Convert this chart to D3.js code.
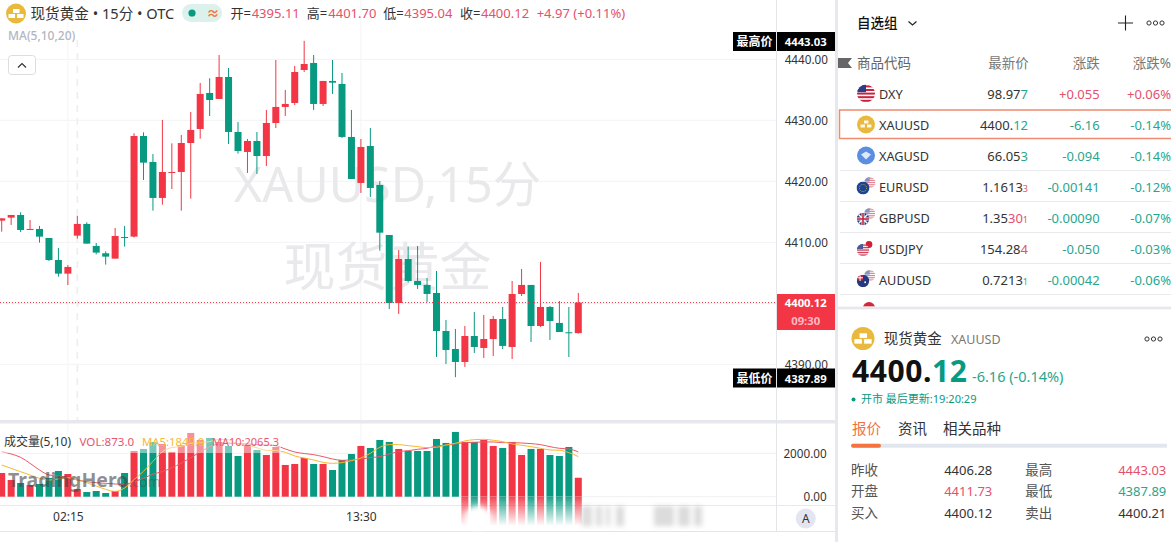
<!DOCTYPE html>
<html>
<head>
<meta charset="utf-8">
<script src="https://cdn.jsdelivr.net/npm/d3@7"></script>
<style>
  html, body { margin: 0; padding: 0; background: #fff; overflow: hidden; }
  svg { display: block; }
  text { font-family: "Noto Sans", "Noto Sans CJK SC", sans-serif; }
  .tick line, .domain { shape-rendering: crispEdges; }
</style>
</head>
<body>
<div id="chart"></div>
<script>
const opens = [4413.55,4414.04,4414.48,4412.02,4412.19,4410.71,4407.10,4404.86,4411.09,4413.01,
  4409.40,4408.20,4407.32,4410.87,4410.93,4427.43,4423.17,4417.27,4421.37,4421.53,
  4426.28,4428.58,4434.48,4433.50,4437.10,4428.09,4424.81,4426.61,4424.15,4429.56,
  4432.19,4432.84,4438.25,4439.40,4432.68,4436.45,4435.96,4427.27,4419.73,4425.79,
  4419.40,4411.20,4400.05,4407.27,4403.66,4403.01,4401.69,4395.46,4392.51,4390.38,
  4394.64,4392.68,4394.15,4397.43,4392.84,4401.53,4403.01,4396.28,4399.40,4396.78,
  4395.25,4395.11];
const closes = [4413.93,4414.48,4412.02,4412.19,4410.93,4407.10,4404.86,4405.96,4413.01,4409.78,
  4408.31,4407.65,4411.04,4410.77,4427.43,4423.06,4417.27,4421.53,4421.53,4426.28,
  4428.42,4434.32,4433.33,4437.10,4428.09,4424.97,4426.61,4424.15,4429.56,4432.19,
  4432.68,4437.92,4439.23,4432.68,4436.45,4436.17,4427.27,4420.38,4425.63,4418.91,
  4411.58,4400.05,4407.27,4403.66,4403.01,4401.53,4395.46,4392.35,4390.38,4394.64,
  4392.84,4394.15,4397.43,4393.01,4401.53,4403.01,4396.28,4399.40,4397.10,4395.30,
  4395.14,4400.12];
const highs = [4413.93,4414.48,4414.92,4413.66,4412.68,4410.71,4409.07,4406.28,4414.32,4413.28,
  4409.89,4408.52,4412.35,4412.68,4427.87,4428.03,4424.48,4430.05,4426.23,4427.60,
  4431.37,4436.12,4436.89,4440.71,4438.58,4429.73,4426.94,4428.09,4431.69,4439.89,
  4434.97,4438.91,4443.03,4440.71,4436.45,4439.89,4437.76,4431.69,4426.94,4428.74,
  4420.05,4411.20,4408.74,4409.29,4409.40,4404.15,4405.30,4397.27,4395.79,4396.28,
  4398.58,4398.09,4397.92,4399.40,4403.66,4405.63,4403.01,4406.78,4399.56,4400.38,
  4399.40,4401.70];
const lows = [4411.75,4412.84,4411.69,4412.02,4409.95,4406.94,4404.37,4402.99,4410.60,4409.78,
  4408.03,4406.34,4407.32,4409.29,4410.77,4420.22,4415.19,4416.17,4418.74,4415.19,
  4417.16,4426.99,4430.71,4433.50,4426.12,4424.54,4421.37,4421.20,4422.51,4428.74,
  4430.71,4432.51,4437.92,4431.69,4432.35,4434.32,4427.10,4420.38,4418.09,4417.43,
  4408.63,4399.07,4398.25,4403.39,4402.35,4400.22,4391.20,4390.05,4387.89,4389.56,
  4391.86,4391.04,4391.37,4392.51,4390.87,4401.20,4393.66,4396.12,4393.99,4395.30,
  4391.20,4395.04];
const volumes = [1092,769,631,538,585,862,1185,1046,354,215,
  262,169,262,1092,2108,2200,2523,2431,2062,2385,
  2938,2615,2708,2523,2338,1877,2385,2154,1923,2292,
  1462,1508,1785,1508,1508,1231,1692,1969,2338,2246,
  2615,2523,2200,2108,2108,2108,2661,2477,2985,2523,
  2523,2615,2338,2246,2523,1923,2200,2200,1923,1877,
  2292,873];
const ma5 = [1461,1307,1154,1000,846,769,815,877,769,646,
  492,338,246,400,784,1169,1630,2072,2265,2320,
  2464,2486,2542,2634,2624,2412,2366,2255,2135,2126,
  2045,1876,1784,1692,1584,1538,1569,1661,1784,2000,
  2276,2400,2400,2353,2307,2261,2277,2384,2461,2569,
  2630,2645,2600,2538,2430,2369,2307,2230,2153,2138,
  2030,1849];
const ma10 = [2076,1969,1815,1538,1230,1000,954,877,769,692,
  646,615,585,569,692,846,1040,1160,1330,1550,
  1800,2060,2300,2440,2470,2440,2430,2400,2385,2350,
  2200,2060,1990,1938,1846,1738,1676,1692,1738,1800,
  1846,1969,2076,2122,2184,2230,2338,2369,2430,2492,
  2507,2522,2522,2492,2492,2476,2446,2400,2307,2230,
  2200,2065];

const priceTicks = [4440, 4430, 4420, 4410, 4400, 4390];
const volTicks = [2000, 0];
const timeTicks = [7, 38];
const timeLabels = ["02:15", "13:30"];

const watchSymbols = ["DXY", "XAUUSD", "XAGUSD", "EURUSD", "GBPUSD", "USDJPY", "AUDUSD", ""];
const watchMain = ["98.97", "4400.", "66.05", "1.1613", "1.35", "154.28", "0.7213", "0.9445"];
const watchTint = ["7", "12", "3", "", "30", "4", "", ""];
const watchSmall = ["", "", "", "3", "1", "", "1", ""];
const watchChange = ["+0.055", "-6.16", "-0.094", "-0.00141", "-0.00090", "-0.050", "-0.00042", "+0.00345"];
const watchPct = ["+0.06%", "-0.14%", "-0.14%", "-0.12%", "-0.07%", "-0.03%", "-0.06%", "+0.37%"];
const watchColor = ["g", "g", "g", "r", "r", "r", "g", "r"];
const watchUp = [1, 0, 0, 0, 0, 0, 0, 1];

const width = 1171, height = 542;
const RED = "#f23645", GREEN = "#089981";
const AXIS_TEXT = "#333";

const x = d3.scaleLinear().domain([0, 61]).range([1.7, 578.3]);
const y = d3.scaleLinear().domain([4390, 4440]).range([364.3, 59.3]);
const yVol = d3.scaleLinear().domain([0, 2000]).range([496.7, 453.3]);
const bodyW = 7;

const candles = opens.map((o, i) => ({ i, o, c: closes[i], h: highs[i], l: lows[i], v: volumes[i] }));
const colorOf = d => (d.c >= d.o ? RED : GREEN);

const svg = d3.select("#chart").append("svg").attr("width", width).attr("height", height);
const defs = svg.append("defs");

defs.append("clipPath").attr("id", "chartClip").append("rect")
  .attr("x", 0).attr("y", 0).attr("width", 776).attr("height", 505);
defs.append("clipPath").attr("id", "listClip").append("rect")
  .attr("x", 838).attr("y", 0).attr("width", 333).attr("height", 306.6);
defs.append("filter").attr("id", "blur6").attr("x", "-30%").attr("y", "-60%").attr("width", "160%").attr("height", "220%")
  .append("feGaussianBlur").attr("stdDeviation", 2.5);

[["fadeR", RED], ["fadeG", GREEN]].forEach(([id, col]) => {
  const g = defs.append("linearGradient").attr("id", id)
    .attr("gradientUnits", "userSpaceOnUse").attr("x1", 0).attr("x2", 0).attr("y1", 497).attr("y2", 526);
  g.append("stop").attr("offset", 0).attr("stop-color", col).attr("stop-opacity", 0.9);
  g.append("stop").attr("offset", 1).attr("stop-color", col).attr("stop-opacity", 0);
});

// ---------- chart area ----------
const chart = svg.append("g").attr("clip-path", "url(#chartClip)");

// price grid
chart.append("g").selectAll("line").data(priceTicks).join("line")
  .attr("x1", 0).attr("x2", 776)
  .attr("y1", d => y(d)).attr("y2", d => y(d))
  .attr("stroke", "#f2f3f5");

// volume grid
chart.append("g").selectAll("line").data(volTicks).join("line")
  .attr("x1", 0).attr("x2", 776)
  .attr("y1", d => yVol(d)).attr("y2", d => yVol(d))
  .attr("stroke", "#eff0f3");

// time grid
chart.append("g").selectAll("line").data(timeTicks).join("line")
  .attr("x1", d => x(d)).attr("x2", d => x(d))
  .attr("y1", 0).attr("y2", 505)
  .attr("stroke", "#f3f4f6");

// session separator
chart.append("line")
  .attr("x1", x(8)).attr("x2", x(8))
  .attr("y1", 40).attr("y2", 420)
  .attr("stroke", "#eceef2").attr("stroke-width", 1.6).attr("stroke-dasharray", "7 6");

// big watermark
chart.append("text").attr("x", 387.5).attr("y", 202).attr("text-anchor", "middle")
  .attr("font-size", 48.5).attr("fill", "#e9e9eb").text("XAUUSD,15分");
chart.append("text").attr("x", 387.5).attr("y", 286).attr("text-anchor", "middle")
  .attr("font-size", 52).attr("fill", "#e9e9eb").text("现货黄金");

// candles
const candleG = chart.append("g");
candleG.selectAll("line").data(candles).join("line")
  .attr("x1", d => x(d.i)).attr("x2", d => x(d.i))
  .attr("y1", d => y(d.h)).attr("y2", d => y(d.l))
  .attr("stroke", colorOf).attr("stroke-width", 1);
candleG.selectAll("rect").data(candles).join("rect")
  .attr("x", d => x(d.i) - bodyW / 2)
  .attr("width", bodyW)
  .attr("y", d => y(Math.max(d.o, d.c)))
  .attr("height", d => Math.max(1, Math.abs(y(d.o) - y(d.c))))
  .attr("fill", colorOf);

// last price dotted line
chart.append("line")
  .attr("x1", 0).attr("x2", 776)
  .attr("y1", y(closes[61])).attr("y2", y(closes[61]))
  .attr("stroke", RED).attr("stroke-dasharray", "1 2");

// volume bars
chart.append("g").selectAll("rect").data(candles).join("rect")
  .attr("x", d => x(d.i) - bodyW / 2)
  .attr("width", bodyW)
  .attr("y", d => yVol(d.v))
  .attr("height", d => yVol(0) - yVol(d.v))
  .attr("fill", colorOf);

// volume moving averages
const maLine = d3.line().x((d, i) => x(i)).y(d => yVol(d)).curve(d3.curveMonotoneX);
chart.append("path").attr("d", maLine(ma10)).attr("fill", "none").attr("stroke", "#e8586a").attr("stroke-width", 1);
chart.append("path").attr("d", maLine(ma5)).attr("fill", "none").attr("stroke", "#f7b92f").attr("stroke-width", 1);

// backing of the volume legend
chart.append("rect").attr("x", 0).attr("y", 432).attr("width", 281).attr("height", 21)
  .attr("fill", "#fff").attr("opacity", 0.45);

// TradingHero mark
const tmark = chart.append("text").attr("x", 8).attr("y", 487).attr("font-size", 19.5).attr("font-weight", 700)
  .attr("fill", "#444").attr("fill-opacity", 0.6);
tmark.append("tspan").text("TradingHero");
tmark.append("tspan").attr("font-weight", 400).attr("font-size", 14).attr("fill-opacity", 0.4).text(".com");

// sub pane separator, axis lines
svg.append("rect").attr("x", 0).attr("y", 420).attr("width", 835).attr("height", 3.5).attr("fill", "#e6e8ee");
svg.append("line").attr("x1", 0).attr("x2", 835).attr("y1", 505.5).attr("y2", 505.5).attr("stroke", "#e8e9ed");
svg.append("line").attr("x1", 0).attr("x2", 835).attr("y1", 531.5).attr("y2", 531.5).attr("stroke", "#e4e5e9");
svg.append("line").attr("x1", 776.5).attr("x2", 776.5).attr("y1", 0).attr("y2", 531).attr("stroke", "#e4e5e9");
svg.append("rect").attr("x", 835).attr("y", 0).attr("width", 3).attr("height", height).attr("fill", "#e6e8ee");

// bar reflections and blurred stamp at the bottom
const fadeG = svg.append("g");
fadeG.selectAll("rect").data(candles.filter(d => d.i >= 49)).join("rect")
  .attr("x", d => x(d.i) - bodyW / 2)
  .attr("width", bodyW)
  .attr("y", 497).attr("height", 30)
  .attr("fill", d => (d.c >= d.o ? "url(#fadeR)" : "url(#fadeG)"));
const stamp = svg.append("g").attr("filter", "url(#blur6)");
stamp.append("ellipse").attr("cx", 478).attr("cy", 518).attr("rx", 13).attr("ry", 12).attr("fill", "#fff");
stamp.selectAll("rect.s").data([[582, 10], [596, 6], [606, 4], [616, 8], [654, 20], [678, 12], [694, 8]]).join("rect")
  .attr("x", d => d[0]).attr("width", d => d[1])
  .attr("y", 506).attr("height", 20)
  .attr("fill", "#c4c4c4").attr("opacity", 0.6);

// price axis
const priceAxis = svg.append("g").attr("transform", "translate(776,0)")
  .call(d3.axisRight(y).tickValues(priceTicks.filter(d => d !== 4400)).tickSize(0).tickPadding(8.7).tickFormat(d3.format(".2f")));
priceAxis.select(".domain").remove();
priceAxis.selectAll("text").attr("font-size", 11.7).attr("fill", AXIS_TEXT);

const volAxis = svg.append("g").attr("transform", "translate(776,0)")
  .call(d3.axisRight(yVol).tickValues(volTicks).tickSize(0).tickFormat(d3.format(".2f")));
volAxis.select(".domain").remove();
volAxis.selectAll("text").attr("font-size", 11.7).attr("fill", AXIS_TEXT)
  .attr("x", 50.7).attr("text-anchor", "end");

// time axis
const timeAxis = svg.append("g").attr("transform", "translate(0,506)")
  .call(d3.axisBottom(x).tickValues(timeTicks).tickSize(0).tickPadding(6).tickFormat((d, i) => timeLabels[i]));
timeAxis.select(".domain").remove();
timeAxis.selectAll("text").attr("font-size", 12).attr("fill", AXIS_TEXT);

svg.append("circle").attr("cx", 805.8).attr("cy", 518.5).attr("r", 10).attr("fill", "#e3e6f0");
svg.append("text").attr("x", 805.8).attr("y", 523).attr("text-anchor", "middle").attr("font-size", 12).attr("fill", "#333").text("A");

// price tags
function tag(label, value, top) {
  svg.append("rect").attr("x", 733).attr("y", top).attr("width", 43).attr("height", 19).attr("fill", "#000");
  svg.append("rect").attr("x", 777).attr("y", top).attr("width", 58).attr("height", 19).attr("fill", "#000");
  svg.append("text").attr("x", 754.5).attr("y", top + 14).attr("text-anchor", "middle").attr("font-size", 12)
    .attr("font-weight", 700).attr("fill", "#fff").text(label);
  svg.append("text").attr("x", 805.7).attr("y", top + 14).attr("text-anchor", "middle").attr("font-size", 11.3)
    .attr("font-weight", 700).attr("fill", "#fff").text(value);
}
tag("最高价", "4443.03", 32);
tag("最低价", "4387.89", 368.5);

svg.append("rect").attr("x", 777).attr("y", 294).attr("width", 58).attr("height", 36).attr("fill", RED);
svg.append("text").attr("x", 805.7).attr("y", 307).attr("text-anchor", "middle").attr("font-size", 11.3)
  .attr("font-weight", 700).attr("fill", "#fff").text("4400.12");
svg.append("text").attr("x", 805.7).attr("y", 325).attr("text-anchor", "middle").attr("font-size", 11.3)
  .attr("font-weight", 700).attr("fill", "#fab9c0").text("09:30");

// ---------- top legend ----------
function goldIcon(cx, cy, r) {
  const g = svg.append("g").attr("transform", `translate(${cx},${cy})`);
  g.append("circle").attr("r", r).attr("fill", "#e8b93c");
  const u = r / 10;
  [[-3, -4.5], [-7.5, 0.5], [1, 0.5]].forEach(d => {
    g.append("rect").attr("x", d[0] * u).attr("y", d[1] * u).attr("width", 6.5 * u).attr("height", 4 * u).attr("fill", "#fff");
  });
  return g;
}
goldIcon(16, 13.5, 10);

function label(txt, px, py, size, fill, extra) {
  const t = svg.append("text").attr("x", px).attr("y", py).attr("font-size", size).attr("fill", fill).text(txt);
  if (extra) Object.keys(extra).forEach(k => t.attr(k, extra[k]));
  return t;
}
label("现货黄金 • 15分 • OTC", 30.5, 18.5, 14.6, "#333");
svg.append("rect").attr("x", 182).attr("y", 4).attr("width", 40).attr("height", 18).attr("rx", 9).attr("fill", "#dcf0ec");
svg.append("circle").attr("cx", 192).attr("cy", 13).attr("r", 3.6).attr("fill", GREEN);
label("≈", 206.5, 18, 13, "#f2763f", { "font-weight": 700 });

const LEG_RED = "#e5506b";
[["开=", 230.5, "4395.11", 251.7], ["高=", 306.7, "4401.70", 328.3], ["低=", 383.3, "4395.04", 404.3], ["收=", 460, "4400.12", 481]]
  .forEach(d => {
    label(d[0], d[1], 18, 13, "#333");
    label(d[2], d[3], 18, 13, LEG_RED);
  });
label("+4.97 (+0.11%)", 536.7, 18, 13, LEG_RED);
label("MA(5,10,20)", 8, 40, 12, "#b3b6c2", { "font-weight": 500 });

// collapse button
svg.append("rect").attr("x", 8.5).attr("y", 55.5).attr("width", 27).attr("height", 19).attr("rx", 3)
  .attr("fill", "#fff").attr("stroke", "#dcdde1");
svg.append("path").attr("d", "M18 67.5L22 63.5L26 67.5").attr("fill", "none").attr("stroke", "#333").attr("stroke-width", 1.2);

// volume legend
label("成交量(5,10)", 4, 446, 12, "#333");
label("VOL:873.0", 79.5, 446, 11.6, "#e8566f");
label("MA5:1849.0", 142, 446, 11.3, "#f7b92f");
label("MA10:2065.3", 212, 446, 11, "#e8566f");

// ---------- watch list ----------
label("自选组", 857, 28, 13.5, "#111", { "font-weight": 500 });
svg.append("path").attr("d", "M908.5 21.5L912.5 25L916.5 21.5").attr("fill", "none").attr("stroke", "#222").attr("stroke-width", 1.2);
svg.append("path").attr("d", "M1118 23H1133M1125.5 15.5V30.5").attr("fill", "none").attr("stroke", "#222").attr("stroke-width", 1.1);

function dots(cx, cy) {
  svg.append("g").selectAll("circle").data([-6.5, 0, 6.5]).join("circle")
    .attr("cx", d => cx + d).attr("cy", cy).attr("r", 2.1)
    .attr("fill", "none").attr("stroke", "#333").attr("stroke-width", 1);
}
dots(1155.5, 23);

svg.append("path").attr("d", "M838 58H852L848 63L852 68H838Z").attr("fill", "#666");
label("商品代码", 857, 68, 13.5, "#666");
label("最新价", 1028.7, 68, 13.5, "#777", { "text-anchor": "end" });
label("涨跌", 1099.7, 68, 13.5, "#777", { "text-anchor": "end" });
label("涨跌%", 1171, 68, 13.5, "#777", { "text-anchor": "end" });

let flagId = 0;
function flag(parent, kind, cx, cy, r, op) {
  const id = "f" + flagId++;
  parent.append("clipPath").attr("id", id).append("circle").attr("cx", cx).attr("cy", cy).attr("r", r);
  const g = parent.append("g").attr("clip-path", `url(#${id})`).attr("opacity", op || 1);
  const rect = (a, b, w, h, c) => g.append("rect").attr("x", a).attr("y", b).attr("width", w).attr("height", h).attr("fill", c);
  if (kind === "us") {
    rect(cx - r, cy - r, 2 * r, 2 * r, "#fff");
    d3.range(0, 5).forEach(k => rect(cx - r, cy - r + (k * 2 * r) / 5 + r * 0.1, 2 * r, r * 0.22, "#c8223d"));
    rect(cx - r, cy - r, r, r * 0.85, "#2b3f87");
  } else if (kind === "eu") {
    rect(cx - r, cy - r, 2 * r, 2 * r, "#1d4494");
    g.append("circle").attr("cx", cx).attr("cy", cy).attr("r", r * 0.55).attr("fill", "none")
      .attr("stroke", "#e6c435").attr("stroke-width", 0.8).attr("stroke-dasharray", "1 1");
  } else if (kind === "gb" || kind === "au") {
    rect(cx - r, cy - r, 2 * r, 2 * r, "#233a80");
    if (kind === "gb") {
      g.append("path").attr("d", `M${cx - r} ${cy - r}L${cx + r} ${cy + r}M${cx + r} ${cy - r}L${cx - r} ${cy + r}`).attr("stroke", "#fff").attr("stroke-width", 1.4);
      rect(cx - r, cy - 1.5, 2 * r, 3, "#fff");
      rect(cx - 1.5, cy - r, 3, 2 * r, "#fff");
      rect(cx - r, cy - 0.8, 2 * r, 1.6, "#c8223d");
      rect(cx - 0.8, cy - r, 1.6, 2 * r, "#c8223d");
    } else {
      rect(cx - r, cy - r, r, r * 0.9, "#c8223d");
      rect(cx - r, cy - r * 0.6, r, 1, "#fff");
      rect(cx - r * 0.55, cy - r, 1, r, "#fff");
      g.append("circle").attr("cx", cx + r * 0.35).attr("cy", cy + r * 0.2).attr("r", 0.9).attr("fill", "#fff");
    }
  } else if (kind === "jp") {
    rect(cx - r, cy - r, 2 * r, 2 * r, "#fff");
    g.append("circle").attr("cx", cx).attr("cy", cy).attr("r", r * 0.85).attr("fill", "#d11f37");
  }
}

const rowY = [93.5, 124.5, 155.5, 186.5, 217.5, 248.5, 279.5, 310.5];
const list = svg.append("g").attr("clip-path", "url(#listClip)");

[170.5, 201.5, 232.5, 263.5, 294.5].forEach(v => {
  list.append("line").attr("x1", 840).attr("x2", 1171).attr("y1", v).attr("y2", v).attr("stroke", "#e9eaed");
});

watchSymbols.forEach((s, i) => {
  const cy = rowY[i];
  const hue = watchColor[i] === "r" ? "#e5506b" : "#27a68f";
  const change = watchUp[i] ? "#e5506b" : "#27a68f";
  if (s) list.append("text").attr("x", 879).attr("y", cy + 5).attr("font-size", 12.7).attr("fill", "#333").text(s);
  const t = list.append("text").attr("x", 1028).attr("y", cy + 5).attr("text-anchor", "end").attr("font-size", 13)
    .attr("fill", i === 7 ? RED : "#333");
  t.append("tspan").text(watchMain[i]);
  if (watchTint[i]) t.append("tspan").attr("fill", hue).text(watchTint[i]);
  if (watchSmall[i]) t.append("tspan").attr("fill", hue).attr("font-size", 9).text(watchSmall[i]);
  list.append("text").attr("x", 1099.7).attr("y", cy + 5).attr("text-anchor", "end").attr("font-size", 13).attr("fill", change).text(watchChange[i]);
  list.append("text").attr("x", 1171).attr("y", cy + 5).attr("text-anchor", "end").attr("font-size", 13).attr("fill", change).text(watchPct[i]);
});

// row icons
flag(list, "us", 866, rowY[0], 9);
const xau = list.append("g").attr("transform", `translate(866,${rowY[1]})`);
xau.append("circle").attr("r", 9).attr("fill", "#e8b93c");
[[-2, -4], [-5.5, 0], [1, 0]].forEach(d => xau.append("rect").attr("x", d[0]).attr("y", d[1]).attr("width", 4.4).attr("height", 3).attr("fill", "#fff").attr("opacity", 0.9));
const xag = list.append("g").attr("transform", `translate(866,${rowY[2]})`);
xag.append("circle").attr("r", 9).attr("fill", "#5b8de0");
xag.append("path").attr("d", "M-5 -1L0 -4L5 -1L0 4Z").attr("fill", "#dfe9fb");
flag(list, "us", 869.7, rowY[3] - 4, 5.5, 0.55);
flag(list, "eu", 863, rowY[3] + 1.5, 6.5);
flag(list, "us", 869.7, rowY[4] - 4, 5.5, 0.55);
flag(list, "gb", 863, rowY[4] + 1.5, 6.2);
flag(list, "jp", 869, rowY[5] - 4, 4);
flag(list, "us", 863, rowY[5] + 1.5, 6.2, 0.85);
flag(list, "us", 869.7, rowY[6] - 4, 5.5, 0.55);
flag(list, "au", 863, rowY[6] + 1.5, 6.2);
list.append("circle").attr("cx", 869).attr("cy", 308).attr("r", 6).attr("fill", "#d3263a");

// selected row
svg.append("rect").attr("x", 839.5).attr("y", 110).attr("width", 340).attr("height", 28.5)
  .attr("fill", "none").attr("stroke", "#f08a70").attr("stroke-width", 1.5);

svg.append("rect").attr("x", 838).attr("y", 306.6).attr("width", 333).attr("height", 2.8).attr("fill", "#e6e8ee");

// ---------- quote panel ----------
goldIcon(863, 338.5, 11.5);
label("现货黄金", 883.7, 344, 14.5, "#333");
label("XAUUSD", 951, 344, 12.5, "#777");
dots(1153.5, 339);

const big = label("", 852, 381.5, 30, "#111", { "font-weight": 700, "letter-spacing": 0.6 });
big.append("tspan").text("4400.");
big.append("tspan").attr("fill", GREEN).text("12");
label("-6.16 (-0.14%)", 972, 382, 14.5, "#27a68f");
svg.append("circle").attr("cx", 853.5).attr("cy", 399.5).attr("r", 2).attr("fill", GREEN);
label("开市 最后更新:19:20:29", 861, 403, 11, GREEN);

label("报价", 852, 434, 14.5, "#f2713f");
label("资讯", 898, 434, 14.5, "#333");
label("相关品种", 943, 434, 14.5, "#333");
svg.append("rect").attr("x", 852).attr("y", 443.7).attr("width", 315).attr("height", 4).attr("fill", "#e2e6ef");
svg.append("rect").attr("x", 851).attr("y", 443.7).attr("width", 30).attr("height", 4).attr("rx", 2).attr("fill", "#f47340");

const statRows = [
  ["昨收", "4406.28", "#333", "最高", "4443.03", "#e5506b"],
  ["开盘", "4411.73", "#e5506b", "最低", "4387.89", "#27a68f"],
  ["买入", "4400.12", "#333", "卖出", "4400.21", "#333"],
];
statRows.forEach((r, i) => {
  const py = [474.5, 496, 517.5][i];
  label(r[0], 851, py, 13.5, "#555");
  label(r[1], 992.3, py, 13, r[2], { "text-anchor": "end" });
  label(r[3], 1025.3, py, 13.5, "#555");
  label(r[4], 1166.3, py, 13, r[5], { "text-anchor": "end" });
});
</script>
</body>
</html>
